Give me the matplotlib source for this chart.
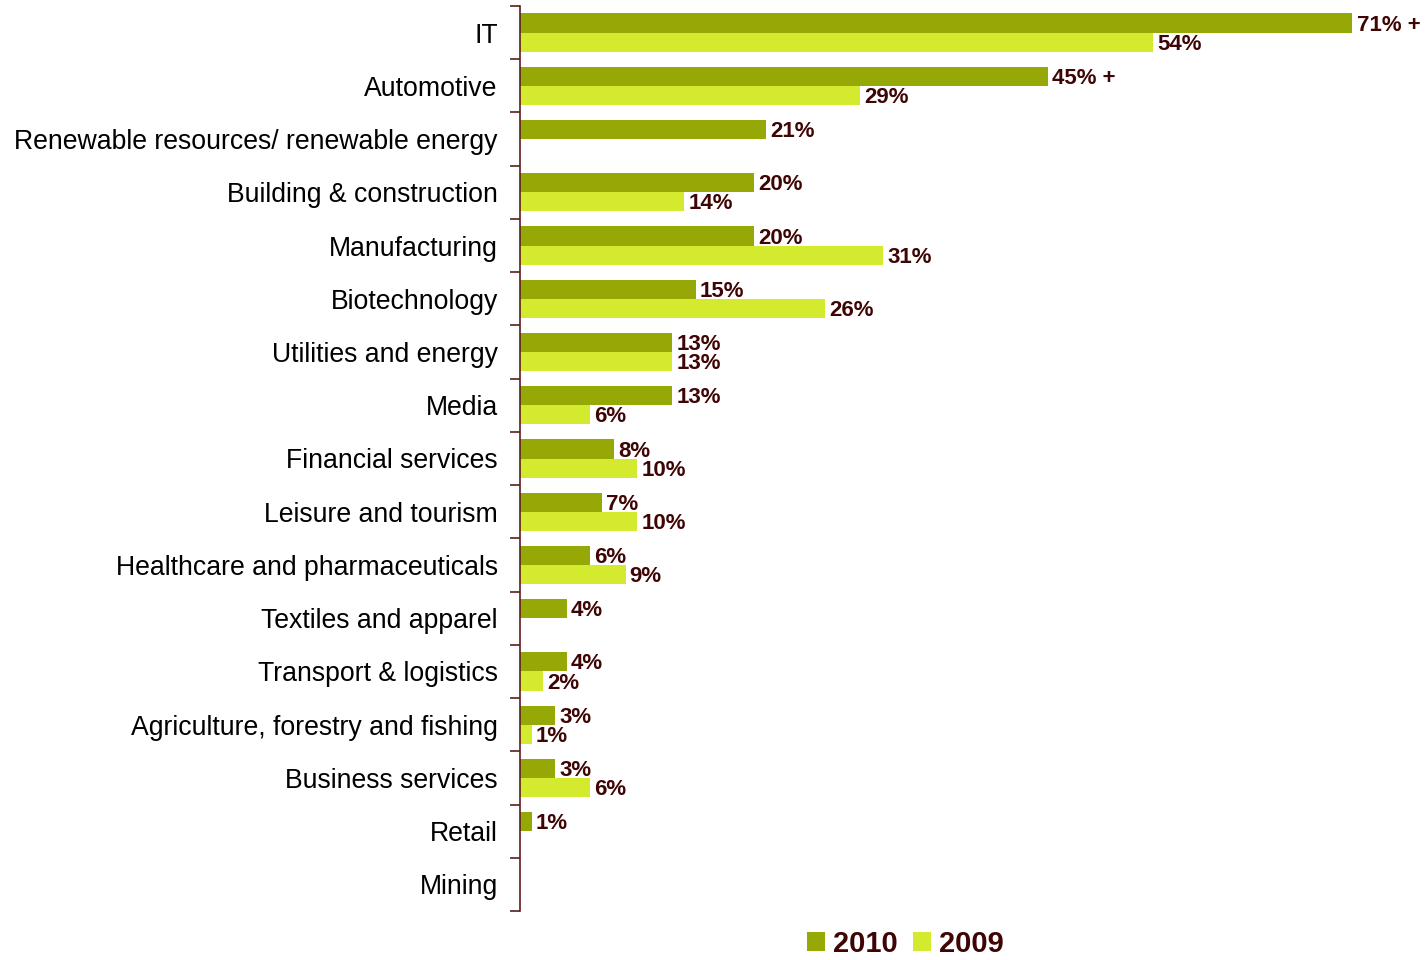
import matplotlib.pyplot as plt
import numpy as np
from matplotlib.patches import Patch

plt.rcParams['font.family'] = ['Liberation Sans', 'DejaVu Sans']

sectors = ["IT", "Automotive", "Renewable resources/ renewable energy",
           "Building & construction", "Manufacturing", "Biotechnology",
           "Utilities and energy", "Media", "Financial services",
           "Leisure and tourism", "Healthcare and pharmaceuticals",
           "Textiles and apparel", "Transport & logistics",
           "Agriculture, forestry and fishing", "Business services",
           "Retail", "Mining"]
v2010 = [71, 45, 21, 20, 20, 15, 13, 13, 8, 7, 6, 4, 4, 3, 3, 1, None]
v2009 = [54, 29, None, 14, 31, 26, 13, 6, 10, 10, 9, None, 2, 1, 6, None, None]
# significant increase marker
plus = ["IT", "Automotive"]

c2010 = "#96A806"
c2009 = "#D4EA2F"
lab_col = "#3F0505"
ax_col = "#5A1E1E"

fig = plt.figure(figsize=(14.28, 9.6), dpi=100)
ax = fig.add_axes([520/1428, 1-911/960, 891/1428, 905/960])

y = np.arange(len(sectors))
h = 0.36
a = np.array([np.nan if v is None else v for v in v2010], dtype=float)
b = np.array([np.nan if v is None else v for v in v2009], dtype=float)
ax.barh(y - h/2, a, height=h, color=c2010)
ax.barh(y + h/2, b, height=h, color=c2009)

for i, s in enumerate(sectors):
    if v2010[i] is not None:
        t = "%d%%" % v2010[i] + (" +" if s in plus else "")
        ax.annotate(t, (v2010[i], i - h/2), xytext=(3, -1.5), textcoords="offset points",
                    va="center", ha="left", fontsize=16, fontweight="bold",
                    color=lab_col, annotation_clip=False)
    if v2009[i] is not None:
        ax.annotate("%d%%" % v2009[i], (v2009[i], i + h/2), xytext=(3, -1.5),
                    textcoords="offset points", va="center", ha="left",
                    fontsize=16, fontweight="bold", color=lab_col,
                    annotation_clip=False)

ax.set_xlim(0, 76)
ax.set_ylim(len(sectors) - 0.5, -0.5)
ax.set_yticks(y)
ax.set_yticklabels(sectors, fontsize=19.2)
ax.set_yticks(np.arange(-0.5, len(sectors)), minor=True)
ax.tick_params(axis="y", which="major", length=0, pad=16)
ax.tick_params(axis="y", which="minor", length=7, width=1.2, color=ax_col)
ax.set_xticks([])
for sp in ["top", "right", "bottom"]:
    ax.spines[sp].set_visible(False)
ax.spines["left"].set_color(ax_col)
ax.spines["left"].set_linewidth(1.2)

handles = [Patch(facecolor=c2010), Patch(facecolor=c2009)]
leg = fig.legend(handles, ["2010", "2009"], loc="center", bbox_to_anchor=(0.634, 0.0167),
                 ncol=2, frameon=False, handlelength=0.62, handleheight=0.62,
                 handletextpad=0.28, columnspacing=0.5,
                 prop={"size": 21, "weight": "bold"})
for t in leg.get_texts():
    t.set_color(lab_col)

plt.savefig("out.png", dpi=100)
